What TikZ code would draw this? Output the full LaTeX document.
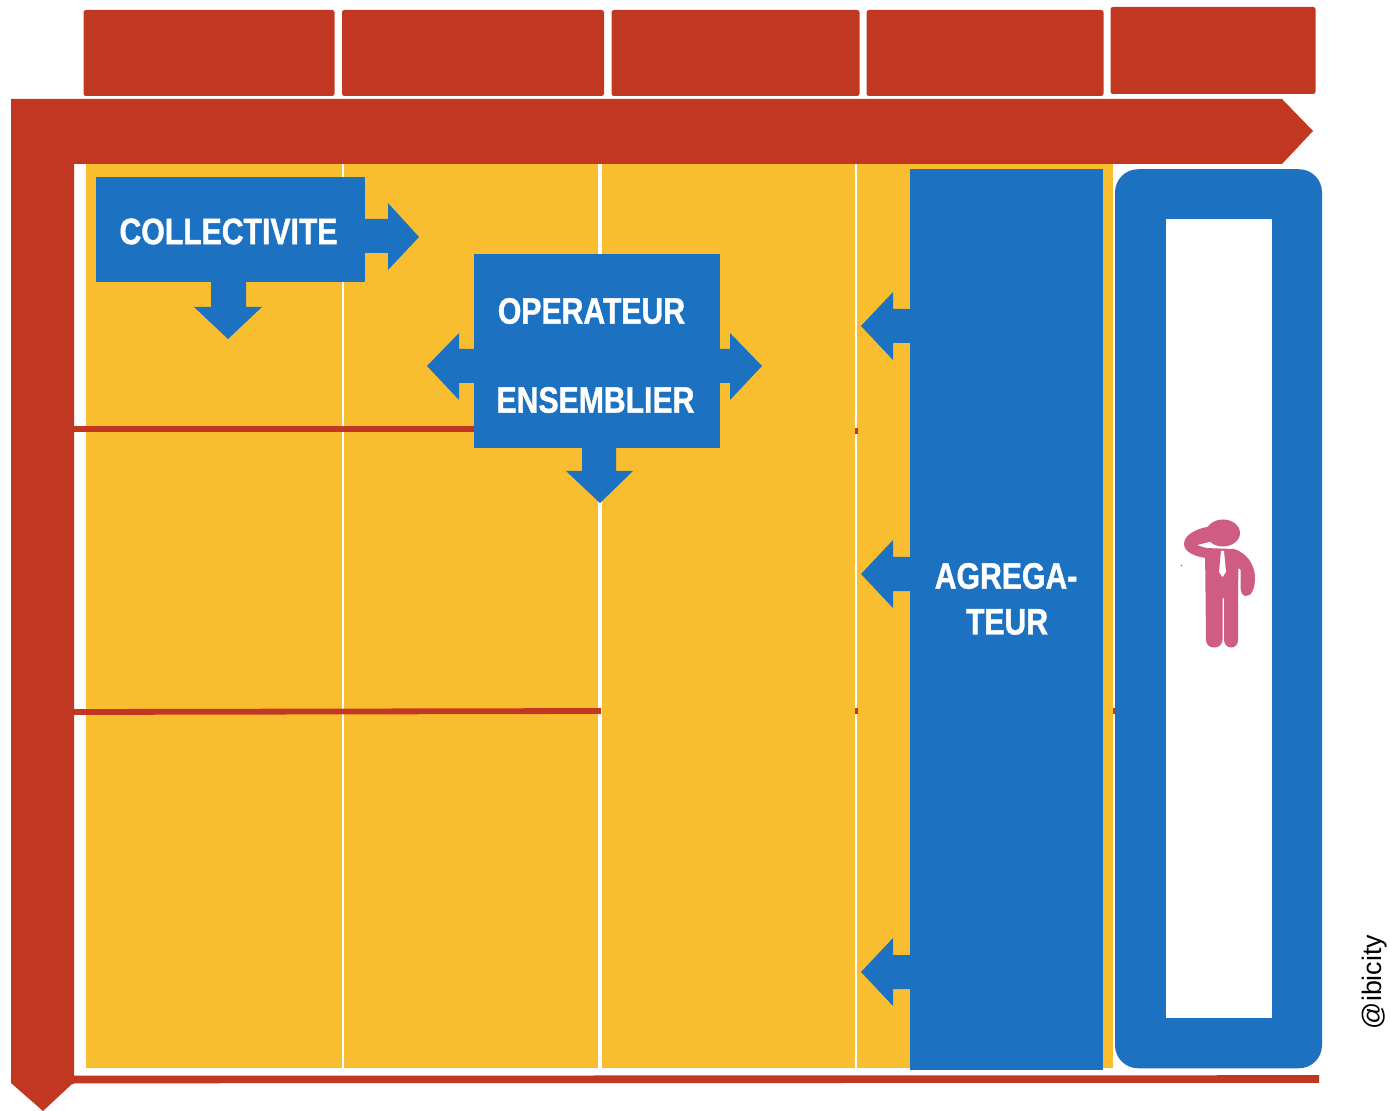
\documentclass[tikz,border=0pt]{standalone}
\usepackage{fontspec}
\setmainfont{Liberation Sans}
\newfontfamily\labfont[BoldFeatures={FakeBold=1.1,FakeStretch=0.82}]{Liberation Sans}
\definecolor{rouge}{HTML}{C13722}
\definecolor{jaune}{HTML}{F9BE30}
\definecolor{bleu}{HTML}{1C71C0}
\definecolor{rose}{HTML}{CF5C82}
\tikzset{
  redtab/.style={fill=rouge,draw=none,rectangle,rounded corners=1.2pt,inner sep=0,outer sep=0},
  bluebox/.style={fill=bleu,draw=none,rectangle,inner sep=0,outer sep=0},
  label/.style={text=white,inner sep=0,font=\labfont\fontsize{18.4}{18.4}\bfseries\selectfont},
  rline/.style={draw=rouge,line width=2.9pt},
  wline/.style={draw=white},
}
\begin{document}
\begin{tikzpicture}[x=0.5pt,y=-0.5pt]
\useasboundingbox (0,0) rectangle (1390,1111);
% top tabs
\node[redtab,minimum width=125.5pt,minimum height=43pt] (t1) at (209,53) {};
\node[redtab,minimum width=131pt,minimum height=43pt] (t2) at (473,53) {};
\node[redtab,minimum width=124pt,minimum height=43pt] (t3) at (735.5,53) {};
\node[redtab,minimum width=118.5pt,minimum height=43pt] (t4) at (985,53) {};
\node[redtab,minimum width=102.5pt,minimum height=43.5pt] (t5) at (1213,50.5) {};
% yellow field
\fill[jaune] (86,164) rectangle (1113,1068);
\draw[wline,line width=1pt] (342.5,164) -- (342.5,1068);
\draw[wline,line width=2pt] (600,164) -- (600,1068);
\draw[wline,line width=1pt] (856,164) -- (856,1068);
% white gutter
\fill[white] (74,164) rectangle (86,1075);
% red lines
\draw[rline] (74,429) -- (476,429);
\draw[rline] (74,712) -- (601,711);
\draw[rline] (855,431) -- (858,431);
\draw[rline] (855,711) -- (858,711);
\draw[rline] (1113,711) -- (1116,711);
\draw[draw=rouge,line width=3.8pt] (72,1079.5) -- (1319,1079);
% L-shaped band
\fill[rouge] (11,99) -- (1282,99) -- (1313,131) -- (1282,164) -- (74,164) -- (74,1084)
  -- (72,1084) -- (43,1111) -- (11,1083) -- cycle;
% collectivite
\fill[bleu] (363,219) -- (388,219) -- (388,203) -- (419,237) -- (388,270) -- (388,253) -- (363,253) -- cycle;
\fill[bleu] (211,280) -- (246,280) -- (246,307) -- (262,307) -- (228,339) -- (194,307) -- (211,307) -- cycle;
\node[bluebox,minimum width=134.5pt,minimum height=52.5pt] (coll) at (230.5,229.5) {};
\node[label] (collt) at (228.5,231.5) {COLLECTIVITE};
% operateur
\fill[bleu] (476,349) -- (459,349) -- (459,333) -- (427,366) -- (459,400) -- (459,383) -- (476,383) -- cycle;
\fill[bleu] (718,349) -- (730,349) -- (730,333) -- (762,366) -- (730,400) -- (730,383) -- (718,383) -- cycle;
\fill[bleu] (582,446) -- (616,446) -- (616,471) -- (633,471) -- (600,503) -- (566,471) -- (582,471) -- cycle;
\node[bluebox,minimum width=123pt,minimum height=97pt] (oper) at (597,351) {};
\node[label] (opert) at (591.5,311) {OPERATEUR};
\node[label] (enst) at (595.5,400) {ENSEMBLIER};
% agregateur
\foreach \yy in {326,574,972}{
  \fill[bleu] (912,\yy-17) -- (893,\yy-17) -- (893,\yy-34) -- (861,\yy) -- (893,\yy+34) -- (893,\yy+17) -- (912,\yy+17) -- cycle;
}
\node[bluebox,minimum width=96.5pt,minimum height=450.5pt] (agr) at (1006.5,619.75) {};
\node[label] (agrt1) at (1006,576) {AGREGA-};
\node[label] (agrt2) at (1007,622) {TEUR};
% user frame
\node[fill=bleu,draw=none,rectangle,rounded corners=11.5pt,inner sep=0,minimum width=103.5pt,minimum height=449.5pt] (frame) at (1218.5,618.75) {};
\node[fill=white,draw=none,rectangle,inner sep=0,minimum width=53pt,minimum height=399pt] (win) at (1219,618.5) {};
% person
\fill[rose] (1223,533) ellipse [x radius=17,y radius=13.5];
\fill[rose] (1212,526) .. controls (1198,528) and (1184,534) .. (1184,544)
  .. controls (1184,552) and (1196,557) .. (1206,558) -- (1212,549)
  .. controls (1205,548) and (1199,546) .. (1197,545)
  .. controls (1201,544) and (1206,543) .. (1212,541) -- cycle;
\fill[rose] (1205,548) -- (1234,549) .. controls (1247,553) and (1255,565) .. (1255,578)
  .. controls (1255,588) and (1252,596) .. (1246,596)
  .. controls (1242,596) and (1241,592) .. (1240.5,588)
  -- (1240.5,570) -- (1238.5,568) -- (1238,590) -- (1238,640)
  .. controls (1238,650) and (1224.5,650) .. (1224,640) -- (1224,598) -- (1222.5,598) -- (1222.5,640)
  .. controls (1222,650) and (1206,650) .. (1206,640) -- cycle;
\fill[white] (1221,551) -- (1224,551) -- (1226,572) -- (1222.5,577) -- (1219,572) -- cycle;
\fill[rose] (1181.5,565.5) circle (0.9);
% credit
\node[rotate=90,inner sep=0,font=\fontsize{13.4}{13.4}\selectfont,text=black] (credit) at (1375,982) {@ibicity};
\end{tikzpicture}
\end{document}
